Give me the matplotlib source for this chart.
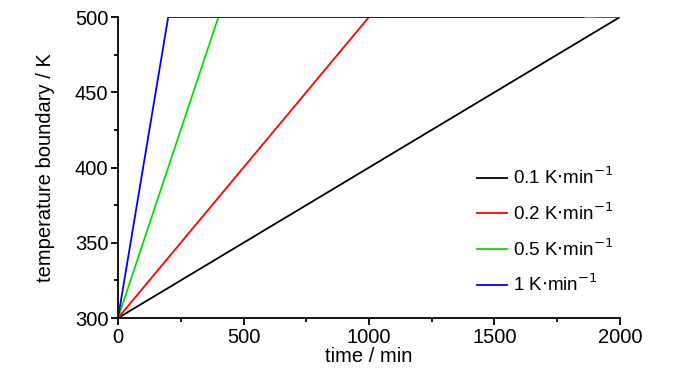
import numpy as np
import matplotlib.pyplot as plt
from matplotlib.ticker import MultipleLocator

plt.rcParams['font.family'] = ['Liberation Sans', 'DejaVu Sans']

# heating rates and time at which each ramp reaches 500 K
labels = [r'0.1 K$\cdot$min$^{-1}$', r'0.2 K$\cdot$min$^{-1}$',
          r'0.5 K$\cdot$min$^{-1}$', r'1 K$\cdot$min$^{-1}$']
colors = ['black', 'red', '#00e000', 'blue']
t_ramp_end = [2000, 1000, 400, 200]
t_end = [2000, 2000, 1900, 1855]
T_start = 300
T_end = 500

fig = plt.figure(figsize=(7, 3.74), dpi=100)
ax = fig.add_axes([0.1686, 0.1497, 0.7171, 0.8048])

for lab, c, tr, te in zip(labels, colors, t_ramp_end, t_end):
    t = [0, tr, te]
    T = [T_start, T_end, T_end]
    ax.plot(t, T, color=c, lw=1.3, label=lab)

ax.set_xlim(0, 2000)
ax.set_ylim(300, 500)
ax.xaxis.set_major_locator(MultipleLocator(500))
ax.xaxis.set_minor_locator(MultipleLocator(250))
ax.yaxis.set_major_locator(MultipleLocator(50))
ax.yaxis.set_minor_locator(MultipleLocator(25))
for s in ['top', 'right']:
    ax.spines[s].set_visible(False)
for s in ['left', 'bottom']:
    ax.spines[s].set_linewidth(1.3)
ax.tick_params(which='major', direction='out', length=5, width=1.3,
               labelsize=14.5, pad=2)
ax.tick_params(which='minor', direction='out', length=3, width=1.3)
ax.set_xlabel('time / min', fontsize=14.5, labelpad=0)
ax.set_ylabel('temperature boundary / K', fontsize=14.5, labelpad=14)

ax.legend(loc='lower right', bbox_to_anchor=(1.02, 0.02), frameon=False,
          fontsize=13.5, handlelength=1.6, handletextpad=0.3, labelspacing=0.75)

fig.savefig('out.png', dpi=100)
